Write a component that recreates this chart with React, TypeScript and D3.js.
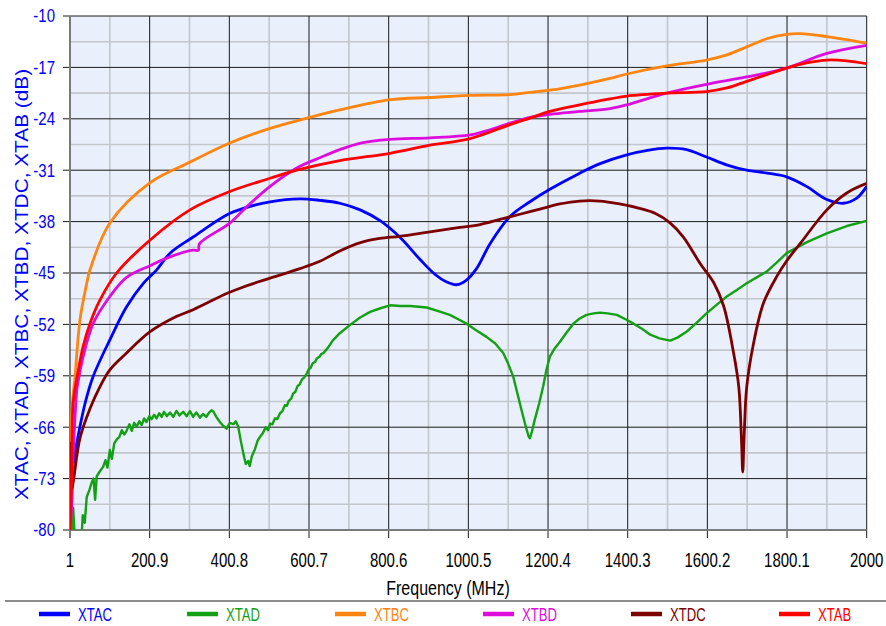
import * as d3 from "d3";
import React from "react";

const width = 886;
const height = 626;
const plot = { left: 70, right: 866.7, top: 16, bottom: 530 };
const font = "'Liberation Sans', Arial, sans-serif";

// axis ticks as printed on the chart
const xTickValues = [1, 200.9, 400.8, 600.7, 800.6, 1000.5, 1200.4, 1400.3, 1600.2, 1800.1, 2000];
const yTickValues = [-10, -17, -24, -31, -38, -45, -52, -59, -66, -73, -80];

// [frequency MHz, dB]
const xtac = [
  [1, -65], [5, -69], [9, -71], [15, -69], [26, -65.9], [40, -62.5], [59, -59.1], [101, -54.1],
  [143, -49.6], [185, -46.4], [218, -44.6], [252, -42.3], [310, -40.1], [394, -37.1], [436, -36.2],
  [503, -35.3], [578, -34.9], [628, -35.1], [678, -35.5], [729, -36.4], [780, -37.9], [830, -40.2],
  [880, -43.2], [915, -45.1], [945, -46.2], [971, -46.6], [995, -46.0], [1021, -44.4], [1055, -41.0],
  [1105, -37.3], [1155, -35.3], [1205, -33.6], [1280, -31.4], [1331, -30.1], [1398, -28.9],
  [1450, -28.3], [1498, -28.0], [1548, -28.2], [1598, -29.2], [1650, -30.3], [1699, -31.0],
  [1750, -31.4], [1799, -31.9], [1849, -33.2], [1900, -35.0], [1941, -35.5], [1975, -34.8],
  [2000, -33.2],
];

const xtad = [
  [5, -80.5], [9, -77], [13, -81], [30, -81], [33, -78], [38, -79], [43, -75.5], [50, -74.5],
  [55, -73.6], [60, -73], [64, -75.9], [68, -72.7], [76, -72], [84, -71.4], [90, -70.5], [95, -71.5],
  [101, -69.1], [106, -70.3], [112, -68.2], [118, -67.7], [125, -67.3], [131, -66.4], [137, -67],
  [143, -66.5], [150, -65.6], [156, -66.5], [162, -65.4], [168, -65.9], [175, -65.2], [181, -65.7],
  [187, -64.8], [193, -65.3], [200, -64.5], [206, -64.9], [212, -64.3], [218, -64.8], [225, -64.1],
  [231, -64.6], [237, -63.9], [244, -64.5], [252, -64], [260, -64.6], [268, -63.8], [276, -64.4],
  [285, -63.9], [294, -64.5], [302, -63.8], [310, -64.6], [318, -64.0], [327, -64.7], [335, -64.2],
  [343, -64.6], [350, -64.0], [356, -63.7], [361, -63.9], [368, -64.6], [377, -65.3], [385, -65.8],
  [394, -66.2], [402, -65.4], [411, -65.6], [417, -65.2], [423, -65.9], [430, -68], [436, -69.6],
  [442, -71], [448, -70.6], [452, -71.3], [457, -70.0], [465, -69], [472, -67.8], [478, -67.3],
  [485, -66.8], [492, -66], [498, -66.4], [503, -65.5], [509, -65.6], [515, -64.8], [521, -64.9],
  [528, -64.1], [534, -63.8], [540, -63], [545, -63.1], [550, -62.4], [556, -62.1], [561, -61.4],
  [566, -61.2], [572, -60.4], [577, -60.2], [583, -59.5], [589, -59.2], [595, -58.7], [600, -58.1],
  [605, -57.9], [610, -57.3], [616, -57.1], [621, -56.6], [627, -56.4], [632, -56.0], [637, -55.9],
  [648, -55.2], [660, -54.2], [678, -53.2], [703, -52.1], [728, -51.1], [754, -50.3],
  [780, -49.8], [804, -49.4], [830, -49.5], [854, -49.5], [876, -49.6], [896, -49.7], [925, -50.2],
  [954, -50.7], [975, -51.3], [996, -51.9], [1020, -52.8], [1046, -53.7], [1068, -54.6], [1088, -55.9],
  [1100, -57.3], [1113, -59.1], [1124, -61.5], [1134, -63.7], [1145, -66], [1152, -67.3], [1155, -67.5],
  [1160, -66.6], [1167, -65.0], [1178, -62.8], [1188, -60.5], [1196, -58.3], [1205, -56.4],
  [1218, -55.2], [1230, -54.4], [1247, -53.1], [1264, -51.9], [1280, -51.2], [1297, -50.7],
  [1315, -50.5], [1331, -50.4], [1350, -50.5], [1373, -50.7], [1395, -51.3], [1415, -51.9],
  [1436, -52.6], [1457, -53.4], [1480, -53.9], [1507, -54.2], [1525, -53.8], [1548, -53.0],
  [1573, -51.8], [1598, -50.5], [1624, -49.3], [1649, -48.2], [1674, -47.3], [1699, -46.4],
  [1724, -45.6], [1749, -44.8], [1774, -43.6], [1799, -42.3], [1850, -40.8], [1900, -39.6],
  [1950, -38.6], [2000, -37.9],
];

const xtbc = [
  [1, -80], [3, -68], [7, -62.7], [13.5, -59.2], [26, -51.4], [43, -46.4], [51, -44.6], [101, -38.2],
  [202, -32.7], [302, -29.9], [402, -27.3], [503, -25.3], [603, -23.8], [678, -22.8], [804, -21.4],
  [904, -21.1], [1005, -20.8], [1105, -20.7], [1155, -20.4], [1205, -20.1], [1280, -19.4],
  [1356, -18.5], [1398, -17.9], [1498, -16.8], [1598, -16.0], [1649, -15.3], [1699, -14.2],
  [1749, -13.1], [1799, -12.5], [1833, -12.4], [1900, -12.8], [2000, -13.7],
];

const xtbd = [
  [1, -80], [5, -77], [9, -70], [18, -61], [22, -59.6], [34, -56.4], [59, -51.9], [101, -48.2],
  [143, -45.6], [202, -44], [252, -42.8], [310, -41.9], [323, -41.9], [326, -41.0], [402, -38.2],
  [444, -36.0], [503, -33.2], [570, -30.7], [628, -29.3], [678, -28.2], [730, -27.3], [804, -26.8],
  [904, -26.6], [1005, -26.2], [1055, -25.5], [1105, -24.6], [1155, -23.8], [1205, -23.4],
  [1280, -23.0], [1356, -22.6], [1398, -22.1], [1498, -20.5], [1598, -19.3], [1699, -18.3],
  [1799, -17.1], [1900, -15.1], [2000, -14.0],
];

const xtdc = [
  [1, -68], [5, -74.5], [9, -73.5], [26, -67.5], [51, -63.5], [76, -60.5], [101, -58.2], [143, -55.9],
  [202, -53.0], [269, -50.9], [310, -50.0], [394, -47.8], [436, -46.9], [503, -45.7], [578, -44.4],
  [628, -43.4], [678, -42.0], [728, -40.9], [778, -40.3], [829, -40.0], [879, -39.6], [929, -39.2],
  [979, -38.8], [1030, -38.4], [1080, -37.7], [1130, -37.0], [1180, -36.3], [1230, -35.6],
  [1280, -35.2], [1330, -35.2], [1380, -35.6], [1430, -36.2], [1470, -36.9], [1505, -38.1],
  [1540, -40.1], [1582, -43.7], [1616, -46.3], [1641, -49.5], [1666, -55.9], [1679, -60.5],
  [1686, -68], [1689, -72.1], [1692, -68], [1699, -60.5], [1716, -54.6], [1741, -49.1],
  [1774, -45.5], [1800, -43.3], [1833, -41.0], [1900, -36.4], [1950, -34.1], [2000, -32.8],
];

const xtab = [
  [1, -80], [5, -73], [9, -62.7], [22, -58.2], [34, -55], [51, -51.9], [76, -48.7], [118, -45],
  [202, -40.5], [302, -36.4], [402, -33.9], [503, -32.1], [570, -31.0], [678, -29.7], [804, -28.7],
  [904, -27.6], [1005, -26.7], [1105, -24.8], [1155, -23.9], [1205, -23.0], [1280, -22.1],
  [1356, -21.3], [1398, -20.9], [1498, -20.5], [1598, -20.3], [1649, -19.8], [1699, -18.9],
  [1749, -18.0], [1799, -17.1], [1849, -16.4], [1900, -16.0], [1950, -16.1], [2000, -16.5],
];

const seriesNames = ["XTAC", "XTAD", "XTBC", "XTBD", "XTDC", "XTAB"];
const seriesColors = ["#0000ff", "#14a014", "#ff8410", "#dd0ddd", "#7c0000", "#ff0000"];
const seriesData = [xtac, xtad, xtbc, xtbd, xtdc, xtab];

const xScale = d3.scaleLinear().domain([1, 2000]).range([plot.left, plot.right]);
const yScale = d3.scaleLinear().domain([-80, -10]).range([plot.bottom, plot.top]);

const smoothLine = d3
  .line()
  .x((d) => xScale(d[0]))
  .y((d) => yScale(d[1]))
  .curve(d3.curveCatmullRom.alpha(0.5));

// the measured XTAD trace is noisy, keep it straight between samples
const rawLine = d3
  .line()
  .x((d) => xScale(d[0]))
  .y((d) => yScale(d[1]));

// minor grid sits halfway between labelled ticks
const mids = (vals) => vals.slice(1).map((v, i) => (v + vals[i]) / 2);

const App = () => {
  const xMinor = mids(xTickValues);
  const yMinor = mids(yTickValues);

  return (
    <div style={{ position: "fixed", left: 0, top: 0 }}>
      <svg width={width} height={height} style={{ display: "block", background: "#fff" }}>
        <defs>
          <clipPath id="plotClip">
            <rect x={plot.left} y={plot.top} width={plot.right - plot.left} height={plot.bottom - plot.top} />
          </clipPath>
        </defs>

        <rect
          x={plot.left}
          y={plot.top}
          width={plot.right - plot.left}
          height={plot.bottom - plot.top}
          fill="#e9f0fc"
        />

        {/* minor grid */}
        {xMinor.map((v) => (
          <line key={"xm" + v} x1={xScale(v)} x2={xScale(v)} y1={plot.top} y2={plot.bottom} stroke="#c3c6cc" strokeWidth={1.6} />
        ))}
        {yMinor.map((v) => (
          <line key={"ym" + v} x1={plot.left} x2={plot.right} y1={yScale(v)} y2={yScale(v)} stroke="#c3c6cc" strokeWidth={1.6} />
        ))}

        {/* major grid + ticks */}
        {xTickValues.map((v) => (
          <line key={"xg" + v} x1={xScale(v)} x2={xScale(v)} y1={plot.top} y2={plot.bottom + 8} stroke="#1a1a1a" strokeWidth={1} />
        ))}
        {yTickValues.map((v) => (
          <line key={"yg" + v} x1={plot.left - 7} x2={plot.right} y1={yScale(v)} y2={yScale(v)} stroke="#1a1a1a" strokeWidth={1} />
        ))}

        {/* axis frame */}
        <line x1={plot.left} x2={plot.left} y1={plot.top} y2={plot.bottom + 8} stroke="#7a7a7a" strokeWidth={2} />
        <line x1={plot.left} x2={plot.right} y1={plot.bottom} y2={plot.bottom} stroke="#7a7a7a" strokeWidth={2} />

        {/* series */}
        <g clipPath="url(#plotClip)">
          {seriesData.map((data, i) => (
            <path
              key={seriesNames[i]}
              d={seriesNames[i] === "XTAD" ? rawLine(data) : smoothLine(data)}
              fill="none"
              stroke={seriesColors[i]}
              strokeWidth={seriesNames[i] === "XTAD" ? 2.4 : 2.8}
              strokeLinejoin="round"
            />
          ))}
        </g>

        {/* y tick labels */}
        {yTickValues.map((v) => (
          <text
            key={"yl" + v}
            transform={`translate(55, ${yScale(v) + 6.3}) scale(1, 1.2)`}
            textAnchor="end"
            fontFamily={font}
            fontSize={15}
            fill="#0000ff"
          >
            {v}
          </text>
        ))}

        {/* x tick labels */}
        {xTickValues.map((v) => (
          <text
            key={"xl" + v}
            transform={`translate(${xScale(v)}, 566.5) scale(1, 1.4)`}
            textAnchor="middle"
            fontFamily={font}
            fontSize={15}
            fill="#000"
          >
            {v}
          </text>
        ))}

        {/* axis titles */}
        <text
          transform="translate(448, 595) scale(1, 1.31)"
          textAnchor="middle"
          fontFamily={font}
          fontSize={16}
          fill="#000"
        >
          Frequency (MHz)
        </text>
        <text
          transform="translate(27.5, 284.5) rotate(-90) scale(1.19, 1)"
          textAnchor="middle"
          fontFamily={font}
          fontSize={17.5}
          fill="#0000ff"
        >
          XTAC, XTAD, XTBC, XTBD, XTDC, XTAB (dB)
        </text>

        {/* legend */}
        <line x1={5} x2={886} y1={601} y2={601} stroke="#8c8c8c" strokeWidth={2} />
        {seriesNames.map((name, i) => {
          const x0 = 39 + i * 148;
          return (
            <g key={"lg" + name}>
              <line x1={x0} x2={x0 + 31} y1={614} y2={614} stroke={seriesColors[i]} strokeWidth={4.5} />
              <text
                transform={`translate(${x0 + 39}, 620.6) scale(1, 1.42)`}
                fontFamily={font}
                fontSize={13.1}
                fill={seriesColors[i]}
              >
                {name}
              </text>
            </g>
          );
        })}
      </svg>
    </div>
  );
};

export default App;
